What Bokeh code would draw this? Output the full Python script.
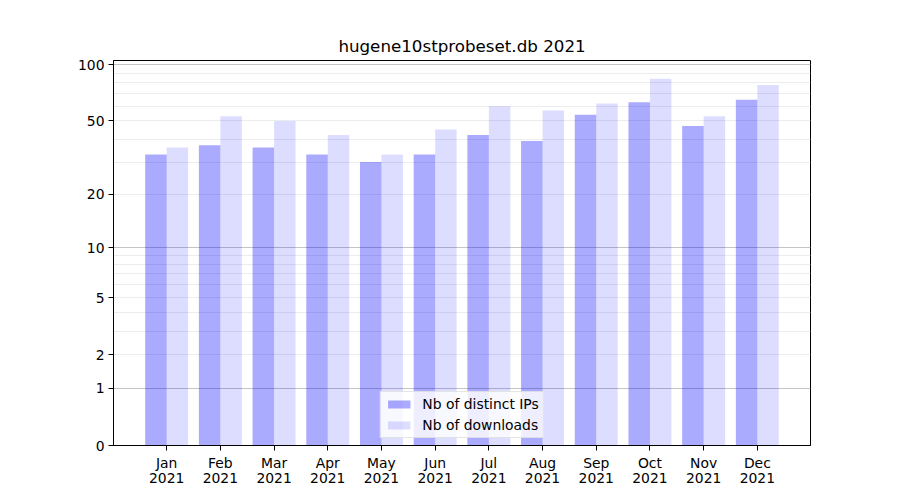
import numpy as np
from bokeh.plotting import figure
from bokeh.models import (ColumnDataSource, FixedTicker, Range1d, CustomJSTickFormatter,
                          Legend, LegendItem)
from bokeh.transform import dodge
from bokeh.embed import file_html
from bokeh.resources import INLINE

months = ["Jan", "Feb", "Mar", "Apr", "May", "Jun", "Jul", "Aug", "Sep", "Oct", "Nov", "Dec"]
year = "2021"
distinct_ips = [33, 37, 36, 33, 30, 33, 42, 39, 54, 63, 47, 65]
downloads = [36, 53, 50, 42, 33, 45, 60, 57, 62, 84, 53, 78]
y_tick_values = [0, 1, 2, 5, 10, 20, 50, 100]
grid_major_values = [1, 10, 100]
grid_minor_values = [2, 3, 4, 5, 6, 7, 8, 9, 20, 30, 40, 50, 60, 70, 80, 90]

FONT = "DejaVu Sans"


def tr(v):
    return np.log10(np.asarray(v, dtype=float) + 1.0)


idx = list(range(len(months)))
src = ColumnDataSource(dict(x=idx, ip=tr(distinct_ips), dl=tr(downloads)))

ymax = 1.05 * float(max(tr(downloads).max(), tr(distinct_ips).max()))

p = figure(width=892, height=492, output_backend="svg", toolbar_location=None,
           x_range=Range1d(-0.99, 11.99), y_range=Range1d(0, ymax),
           min_border_left=113, min_border_right=82, min_border_top=60, min_border_bottom=47)

p.title.text = "hugene10stprobeset.db " + year
p.title.align = "center"
p.title.text_font = FONT
p.title.text_font_size = "16.7px"
p.title.text_font_style = "normal"
p.title.text_color = "black"
p.title.standoff = 9

r_ip = p.vbar(x=dodge("x", -0.2, range=p.x_range), top="ip", width=0.4, bottom=0, source=src,
              fill_color="blue", fill_alpha=1/3, line_color=None)
r_dl = p.vbar(x=dodge("x", 0.2, range=p.x_range), top="dl", width=0.4, bottom=0, source=src,
              fill_color="blue", fill_alpha=0.133, line_color=None)

# axes
p.xaxis.ticker = FixedTicker(ticks=idx)
p.xaxis.major_label_overrides = {i: f"{m}\n{year}" for i, m in zip(idx, months)}
p.xaxis.major_label_text_line_height = 0.95
p.yaxis.ticker = FixedTicker(ticks=list(tr(y_tick_values)))
p.yaxis.formatter = CustomJSTickFormatter(code="return String(Math.round(Math.pow(10, tick) - 1));")

for ax in (p.xaxis, p.yaxis):
    ax.major_label_text_font = FONT
    ax.major_label_text_font_size = "13.9px"
    ax.major_label_text_color = "black"
    ax.major_tick_out = 5
    ax.major_tick_in = 0
    ax.minor_tick_out = 0
    ax.minor_tick_in = 0
    ax.axis_line_color = "black"
    ax.major_tick_line_color = "black"
    ax.major_label_standoff = 4

p.xgrid.visible = False
p.ygrid.ticker = FixedTicker(ticks=list(tr(grid_major_values)), minor_ticks=list(tr(grid_minor_values)))
p.ygrid.grid_line_color = "#c4c4c4"
p.ygrid.minor_grid_line_color = "#ececec"

p.outline_line_color = "black"
p.outline_line_alpha = 1
p.outline_line_width = 1

legend = Legend(items=[LegendItem(label="Nb of distinct IPs", renderers=[r_ip]),
                       LegendItem(label="Nb of downloads", renderers=[r_dl])],
                location="bottom_center")
legend.label_text_font = FONT
legend.label_text_font_size = "13.9px"
legend.label_text_color = "black"
legend.glyph_width = 28
legend.glyph_height = 10
legend.spacing = 5
legend.padding = 4
legend.margin = 7
legend.label_standoff = 10
legend.border_line_color = "#cccccc"
legend.background_fill_alpha = 0.8
p.add_layout(legend)

open("out.html", "w").write(file_html(p, INLINE))
